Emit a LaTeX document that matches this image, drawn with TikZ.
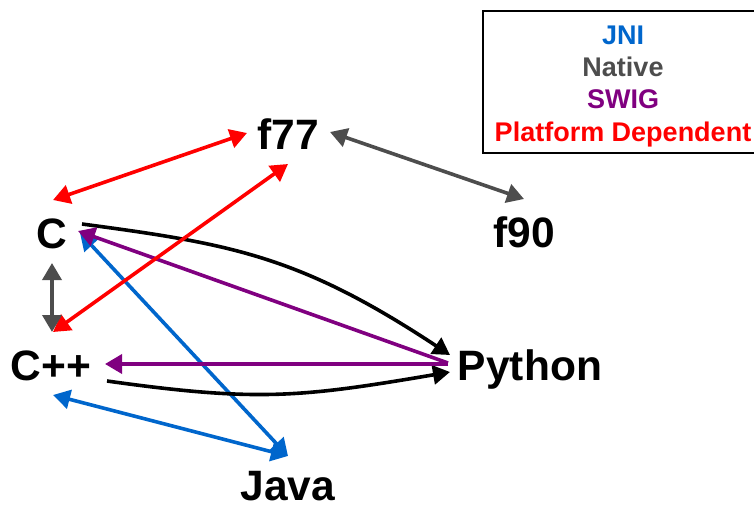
\documentclass[tikz,border=0pt]{standalone}
\usepackage{fontspec}
\setmainfont{Liberation Sans}
\usetikzlibrary{arrows.meta,calc}
\definecolor{jni}{RGB}{0,102,204}
\definecolor{native}{RGB}{77,77,77}
\definecolor{swig}{RGB}{128,0,128}
\definecolor{plat}{RGB}{255,0,0}
\begin{document}
\begin{tikzpicture}[x=1pt,y=-1pt,
  lab/.style={font=\fontsize{42.5}{50}\selectfont\bfseries, inner sep=0pt, anchor=base},
  leg/.style={font=\fontsize{27}{32}\selectfont\bfseries, inner sep=0pt, anchor=base},
  conn/.style={line width=3.6pt, -{Triangle[length=17pt,width=19pt]}},
  bi/.style={line width=3.6pt, {Triangle[length=17pt,width=19pt]}-{Triangle[length=17pt,width=19pt]}},
]
\useasboundingbox (0,0) rectangle (754,506);

% labels
\node[lab] (f77) at (288,149) {f77};
\node[lab] (f90) at (524,247) {f90};
\node[lab] (C) at (52,248) {C};
\node[lab] (Cpp) at (51,380) {C++};
\node[lab] (Py) at (530,380) {Python};
\node[lab, text depth=0pt] (Java) at (288,500) {Java};

% legend
\node[draw, line width=2.2pt, minimum width=280pt, minimum height=142pt, inner sep=0pt] (legend) at (623,82) {};
\node[leg, text=jni] (lj) at (623,44) {JNI};
\node[leg, text=native] (ln) at (623,76) {Native};
\node[leg, text=swig] (ls) at (623,108) {SWIG};
\node[leg, text=plat] (lp) at (623,141) {Platform Dependent};

% JNI
\draw[bi,jni] ([shift={(28,-15)}]C.base) -- ([shift={(0,-44)}]Java.base);
\draw[bi,jni] ([shift={(2,15)}]Cpp.base) -- ([shift={(0,-44)}]Java.base);

% black curves
\draw[conn,black] ([shift={(30,-24)}]C.base) .. controls ([shift={(180,-4)}]C.base) and ([shift={(-230,-124)}]Py.base) .. ([shift={(-80,-25)}]Py.base);
\draw[conn,black] ([shift={(56,1)}]Cpp.base) .. controls ([shift={(206,22)}]Cpp.base) and ([shift={(-230,17.5)}]Py.base) .. ([shift={(-80,-8)}]Py.base);

% SWIG
\draw[conn,swig] ([shift={(-82,-17)}]Py.base) -- ([shift={(26,-17)}]C.base);
\draw[conn,swig] ([shift={(-82,-16)}]Py.base) -- ([shift={(54,-16)}]Cpp.base);

% Platform dependent
\draw[bi,plat] ([shift={(1,-48)}]C.base) -- ([shift={(-41,-16)}]f77.base);
\draw[bi,plat] ([shift={(2,-48)}]Cpp.base) -- ([shift={(0,15)}]f77.base);

% Native
\draw[bi,native] ([shift={(42,-17)}]f77.base) -- ([shift={(0,-48)}]f90.base);
\draw[bi,native] ([shift={(0,15)}]C.base) -- ([shift={(1,-48)}]Cpp.base);
\end{tikzpicture}
\end{document}
